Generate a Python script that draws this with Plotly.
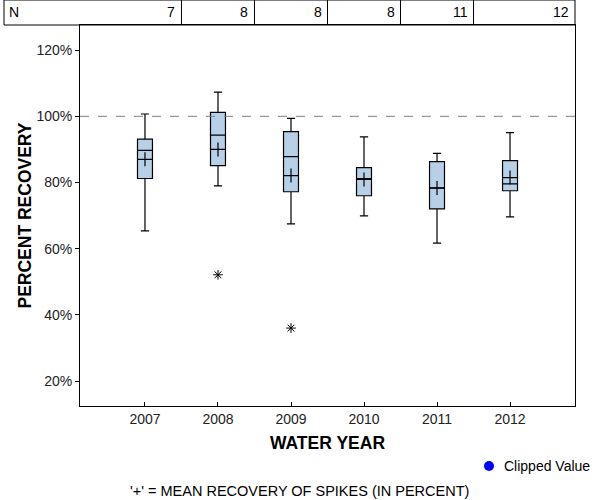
import plotly.graph_objects as go

years = [2007, 2008, 2009, 2010, 2011, 2012]
counts = [7, 8, 8, 8, 11, 12]
upper_whisker = [100.7, 107.3, 99.4, 93.8, 88.8, 95.1]
q3 = [93.1, 101.2, 95.4, 84.5, 86.3, 86.6]
median = [89.7, 94.3, 87.8, 81.2, 78.4, 79.6]
q1 = [81.2, 85.1, 77.2, 76.0, 72.0, 77.5]
lower_whisker = [65.4, 79.0, 67.5, 69.9, 61.7, 69.6]
means = [87.0, 90.0, 82.1, 80.9, 78.3, 81.5]
outlier_years = [2008, 2009]
outlier_values = [52.1, 36.0]
ytick_vals = [20, 40, 60, 80, 100, 120]
ytick_text = ["20%", "40%", "60%", "80%", "100%", "120%"]

FONT = "Arial, Liberation Sans, sans-serif"
FS = 14
xr = [years[0] - 0.89, years[-1] + 0.89]
yr = [12.45, 127.6]
PW, PH = 495, 381

fig = go.Figure()
fig.add_trace(go.Box(
    x=years, q1=q1, median=median, q3=q3,
    lowerfence=lower_whisker, upperfence=upper_whisker,
    width=0.205, whiskerwidth=0.55,
    fillcolor="#B8CFE8", line=dict(color="black", width=1.2),
    boxpoints=False, showlegend=False, hoverinfo="skip",
))
fig.add_trace(go.Scatter(
    x=years, y=means, mode="markers",
    marker=dict(symbol="cross-thin-open", size=10, color="black",
                line=dict(color="black", width=1.2)),
    showlegend=False,
))
fig.add_trace(go.Scatter(
    x=outlier_years, y=outlier_values, mode="markers",
    marker=dict(symbol="asterisk-open", size=8, color="black",
                line=dict(color="black", width=1)),
    showlegend=False,
))

# reference line
fig.add_shape(type="line", xref="paper", yref="y", x0=0, x1=1, y0=100, y1=100,
              line=dict(color="#808080", width=1, dash="dash"))

# N table above the plot
tbl_left = (4 - 80) / PW
tbl_top = 1 + 25 / PH
fig.add_shape(type="rect", xref="paper", yref="paper", x0=tbl_left, x1=1,
              y0=1, y1=tbl_top, line=dict(color="black", width=1), layer="above")
for i, (yv, n) in enumerate(zip(years, counts)):
    if i > 0:
        fig.add_shape(type="line", xref="x", yref="paper", x0=yv - 0.5, x1=yv - 0.5,
                      y0=1, y1=tbl_top, line=dict(color="black", width=1))
    fig.add_annotation(x=yv + 0.5 if i < len(years) - 1 else xr[1], xref="x",
                       y=1 + 12.5 / PH, yref="paper", text=str(n), showarrow=False,
                       xanchor="right", xshift=-4, yanchor="middle",
                       font=dict(family=FONT, size=FS, color="black"))
fig.add_annotation(x=tbl_left, xref="paper", y=1 + 12.5 / PH, yref="paper", text="N",
                   showarrow=False, xanchor="left", xshift=3, yanchor="middle",
                   font=dict(family=FONT, size=FS, color="black"))

# footer note
fig.add_annotation(x=0.5, xref="paper", y=0, yref="paper", yshift=-85, xshift=-28.5,
                   text="'+' = MEAN RECOVERY OF SPIKES (IN PERCENT)", showarrow=False,
                   yanchor="middle", font=dict(family=FONT, size=14.5, color="black"))

# legend: clipped value
fig.add_shape(type="circle", xref="paper", yref="paper",
              x0=(484 - 80) / PW, x1=(494 - 80) / PW,
              y0=-(471 - 406) / PH, y1=-(461 - 406) / PH,
              fillcolor="#0000FF", line=dict(color="#0000FF", width=0))
fig.add_annotation(x=(502 - 80) / PW, xref="paper", y=-(466 - 406) / PH, yref="paper",
                   text="Clipped Value", showarrow=False, xanchor="left", yanchor="middle",
                   font=dict(family=FONT, size=FS, color="black"))

fig.update_layout(
    width=600, height=500,
    margin=dict(l=80, r=25, t=25, b=94, autoexpand=False),
    paper_bgcolor="white", plot_bgcolor="white",
    font=dict(family=FONT, size=FS, color="#222"),
    showlegend=False,
    xaxis=dict(range=xr, tickvals=years, ticktext=[str(y) for y in years],
               ticks="inside", ticklen=4, tickcolor="black", automargin=False,
               showline=True, linecolor="black", linewidth=1, mirror=True,
               showgrid=False, zeroline=False,
               tickfont=dict(family=FONT, size=FS, color="#222"),
               title=dict(text="<b>WATER YEAR</b>", standoff=10,
                          font=dict(family=FONT, size=17.5, color="black"))),
    yaxis=dict(range=yr, tickvals=ytick_vals, ticktext=ytick_text,
               ticks="outside", ticklen=4, tickcolor="black", automargin=False,
               showline=True, linecolor="black", linewidth=1, mirror=True,
               showgrid=False, zeroline=False,
               tickfont=dict(family=FONT, size=FS, color="#222"),
               title=dict(text="<b>PERCENT RECOVERY</b>", standoff=0,
                          font=dict(family=FONT, size=17.5, color="black"))),
)

fig.write_html("out.html", post_script="document.body.style.margin='0';",
               config={"displayModeBar": False})
